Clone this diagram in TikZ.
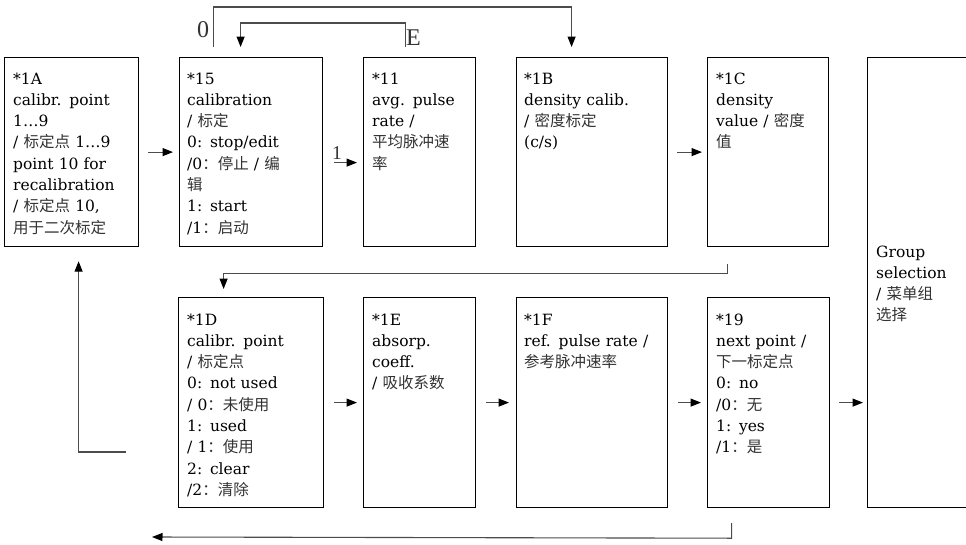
\documentclass[tikz,border=0pt]{standalone}
\usepackage{fontspec}
\setmainfont{DejaVu Serif}
\newfontfamily\cjk{Noto Sans CJK SC}
\newfontfamily\lblfont{Liberation Serif}
\usetikzlibrary{arrows.meta}
\newcommand\zh[1]{{\cjk\color{black!80}#1}}
\begin{document}
\begin{tikzpicture}[x=1pt,y=-1pt,
  box/.style={draw=black, line width=1.2pt, anchor=north west, inner sep=0pt, minimum height=189},
  txt/.style={anchor=base west, inner sep=0pt, text width=150pt, align=left,
    font=\fontsize{15.5}{21.3}\selectfont, text=black},
  lbl/.style={inner sep=0pt, anchor=base west, text=black!80},
  arr/.style={draw=black!70, line width=1.1pt, -{Triangle[length=10.5pt,width=8pt,color=black]}}
]
\useasboundingbox (0,0) rectangle (966,544);
\fill[white] (0,0) rectangle (966,544);

% top row
\node[box, minimum width=134] (b1a) at (4,57) {};
\node[box, minimum width=143] (b15) at (179,57) {};
\node[box, minimum width=112] (b11) at (363,57) {};
\node[box, minimum width=151] (b1b) at (516,57) {};
\node[box, minimum width=121] (b1c) at (707,57) {};
% bottom row
\node[box, minimum width=145, minimum height=210] (b1d) at (178,297) {};
\node[box, minimum width=112, minimum height=210] (b1e) at (363,297) {};
\node[box, minimum width=151, minimum height=210] (b1f) at (516,297) {};
\node[box, minimum width=122, minimum height=210] (b19) at (707,297) {};
% group
\node[box, minimum width=100.5, minimum height=450] (grp) at (867,57) {};

% texts
\node[txt] (t1a) at ([xshift=9,yshift=-27]b1a.north west) {*1A\\calibr. point\\1…9\\/ \zh{标定点} 1…9\\point 10 for\\recalibration\\/ \zh{标定点} 10,\\\zh{用于二次标定}};
\node[txt] (t15) at ([xshift=8,yshift=-27]b15.north west) {*15\\calibration\\/ \zh{标定}\\0: stop/edit\\/0\zh{：停止} / \zh{编}\\\zh{辑}\\1: start\\/1\zh{：启动}};
\node[txt] (t11) at ([xshift=9,yshift=-27]b11.north west) {*11\\avg. pulse\\rate /\\\zh{平均脉冲速}\\\zh{率}};
\node[txt] (t1b) at ([xshift=8,yshift=-27]b1b.north west) {*1B\\density calib.\\/ \zh{密度标定}\\(c/s)};
\node[txt] (t1c) at ([xshift=9,yshift=-27]b1c.north west) {*1C\\density\\value / \zh{密度}\\\zh{值}};
\node[txt] (t1d) at ([xshift=9,yshift=-28]b1d.north west) {*1D\\calibr. point\\/ \zh{标定点}\\0: not used\\/ 0\zh{：未使用}\\1: used\\/ 1\zh{：使用}\\2: clear\\/2\zh{：清除}};
\node[txt] (t1e) at ([xshift=9,yshift=-28]b1e.north west) {*1E\\absorp.\\coeff.\\/ \zh{吸收系数}};
\node[txt] (t1f) at ([xshift=8,yshift=-28]b1f.north west) {*1F\\ref. pulse rate /\\\zh{参考脉冲速率}};
\node[txt] (t19) at ([xshift=9,yshift=-28]b19.north west) {*19\\next point /\\\zh{下一标定点}\\0: no\\/0\zh{：无}\\1: yes\\/1\zh{：是}};
\node[txt] (tgrp) at ([xshift=9,yshift=-200]grp.north west) {Group\\selection\\/ \zh{菜单组}\\\zh{选择}};

% labels
\node[lbl, font=\lblfont\fontsize{24}{24}\selectfont] (l0) at (197,37) {0};
\node[lbl, font=\lblfont\fontsize{24}{24}\selectfont] (lE) at (406,45) {E};
\node[lbl, font=\lblfont\fontsize{19.5}{20}\selectfont] (l1) at (332,159) {1};

% connectors top row
\draw[arr] ([xshift=9]b1a.east) -- ([xshift=-6]b15.west);
\draw[arr] ([xshift=11,yshift=-10.5]b15.east) -- ([xshift=-6,yshift=-10.5]b11.west);
\draw[arr] ([xshift=9]b1b.east) -- ([xshift=-5]b1c.west);
\draw[arr] ([xshift=-37.5,yshift=10]b15.north) -- ++(0,-40) -| ([xshift=-20.5,yshift=10]b1b.north);
\draw[arr] ([xshift=-14,yshift=10]b11.north) -- ++(0,-24) -| ([xshift=-10.5,yshift=10]b15.north);
% row transition
\draw[arr] ([xshift=-40.5,yshift=-17]b1c.south) -- ++(0,9) -| ([xshift=-27.5,yshift=8]b1d.north);
% bottom row
\draw[arr] ([xshift=10]b1d.east) -- ([xshift=-6]b1e.west);
\draw[arr] ([xshift=10]b1e.east) -- ([xshift=-7]b1f.west);
\draw[arr] ([xshift=10]b1f.east) -- ([xshift=-6]b19.west);
\draw[arr] ([xshift=9]b19.east) -- ([xshift=-4]b19.east -| grp.west);
% returns
\coordinate (retend) at (152,537);
\draw[arr] ([xshift=-37,yshift=-15]b19.south) -- ++(0,15) -- (retend);
\coordinate (retin) at (126,452);
\draw[arr] (retin) -| ([xshift=7,yshift=-14]b1a.south);
\end{tikzpicture}
\end{document}
